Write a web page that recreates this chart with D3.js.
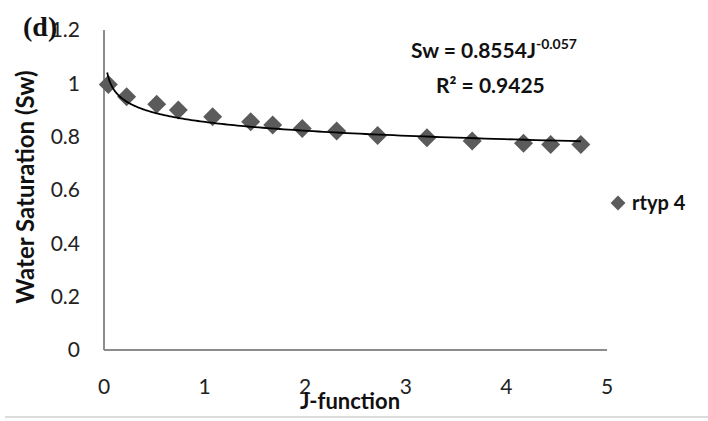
<!DOCTYPE html>
<html><head><meta charset="utf-8">
<script src="https://cdn.jsdelivr.net/npm/d3@7"></script>
<style>body{margin:0;background:#fff}svg{display:block}</style>
</head><body>
<svg id="c" width="708" height="421"></svg>
<script>
const jValues = [0.043,0.225,0.524,0.739,1.08,1.458,1.677,1.971,2.313,2.72,3.21,3.66,4.17,4.44,4.74];
const swValues = [0.996,0.950,0.922,0.900,0.875,0.856,0.844,0.831,0.821,0.804,0.796,0.784,0.775,0.771,0.771];
const xTicks = [0,1,2,3,4,5];
const yTicks = [0,0.2,0.4,0.6,0.8,1,1.2];
const fitA = 0.8554, fitB = -0.057;
const seriesName = "rtyp 4";

const svg = d3.select("#c");
const x = d3.scaleLinear().domain([0,5]).range([104,607]);
const y = d3.scaleLinear().domain([0,1.2]).range([350,30]);
const font = "Lato, 'Open Sans', sans-serif";

// axes lines
svg.append("line").attr("x1",x(0)).attr("x2",x(0)).attr("y1",y(1.2)).attr("y2",y(0)).attr("stroke","#8c8c8c").attr("stroke-width",2);
svg.append("line").attr("x1",x(0)).attr("x2",x(5)).attr("y1",y(0)).attr("y2",y(0)).attr("stroke","#8c8c8c").attr("stroke-width",2);

// tick labels
svg.selectAll(".yt").data(yTicks).enter().append("text")
  .attr("x",x(0)-24).attr("y",d=>y(d)).attr("dy","0.35em").attr("text-anchor","end")
  .attr("font-family",font).attr("font-size",21).attr("fill","#222").text(d=>d3.format("~g")(d));
svg.selectAll(".xt").data(xTicks).enter().append("text")
  .attr("x",d=>x(d)).attr("y",387).attr("dy","0.35em").attr("text-anchor","middle")
  .attr("font-family",font).attr("font-size",21).attr("fill","#222").text(d=>d);

// axis titles
svg.append("text").attr("transform","translate(26,187) rotate(-90)").attr("text-anchor","middle").attr("dy","0.35em")
  .attr("font-family",font).attr("font-weight","bold").attr("font-size",24).attr("fill","#111").text("Water Saturation (Sw)");
svg.append("text").attr("x",350).attr("y",401).attr("dy","0.35em").attr("text-anchor","middle")
  .attr("font-family",font).attr("font-weight","bold").attr("font-size",22).attr("fill","#111").text("J-function");

// markers
svg.selectAll(".pt").data(jValues).enter().append("path")
  .attr("d", d3.symbol().type(d3.symbolSquare).size(180))
  .attr("transform",(d,i)=>`translate(${x(d)},${y(swValues[i])}) rotate(45)`)
  .attr("fill","#5b5b5b");

// trend line
const jMin = 0.032, jMax = d3.max(jValues);
const fit = d3.range(0,201).map(i=>{const j = jMin*Math.pow(jMax/jMin,i/200); return [j, fitA*Math.pow(j,fitB)];});
svg.append("path").datum(fit).attr("fill","none").attr("stroke","#000").attr("stroke-width",1.8)
  .attr("d", d3.line().x(d=>x(d[0])).y(d=>y(d[1])));

// equation
const eq = svg.append("text").attr("x",411).attr("y",58).attr("font-family",font).attr("font-weight","bold").attr("font-size",21).attr("fill","#111");
eq.append("tspan").text("Sw = " + fitA + "J");
eq.append("tspan").attr("dy",-9).attr("font-size",14).text(fitB);
svg.append("text").attr("x",436).attr("y",93).attr("font-family",font).attr("font-weight","bold").attr("font-size",21).attr("fill","#111").text("R² = 0.9425");

// legend
svg.append("path").attr("d", d3.symbol().type(d3.symbolSquare).size(110))
  .attr("transform","translate(618,203) rotate(45)").attr("fill","#5b5b5b");
svg.append("text").attr("x",632).attr("y",203).attr("dy","0.35em").attr("font-family",font).attr("font-weight","bold").attr("font-size",20).attr("fill","#111").text(seriesName);

// panel label
svg.append("text").attr("x",23).attr("y",36).attr("font-family","'Liberation Serif', serif").attr("font-weight","bold").attr("font-size",28).attr("fill","#111").text("(d)");

// bottom rule
svg.append("line").attr("x1",5).attr("x2",708).attr("y1",417).attr("y2",417).attr("stroke","#d0d0d0").attr("stroke-width",1.5);
</script>
</body></html>
